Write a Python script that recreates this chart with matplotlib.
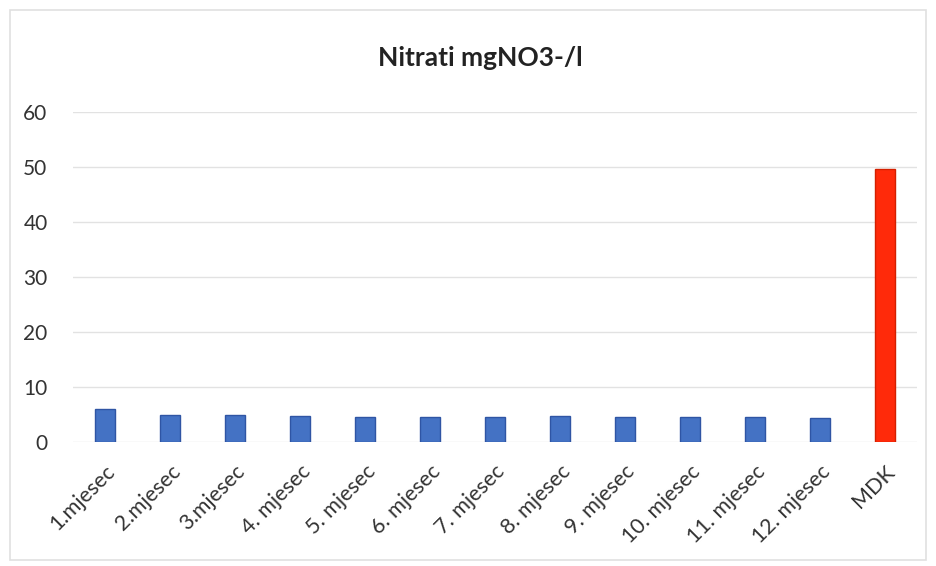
import matplotlib.pyplot as plt
from matplotlib.patches import Rectangle

plt.rcParams['font.family'] = ['Lato', 'DejaVu Sans']

categories = ["1.mjesec", "2.mjesec", "3.mjesec", "4. mjesec", "5. mjesec", "6. mjesec",
              "7. mjesec", "8. mjesec", "9. mjesec", "10. mjesec", "11. mjesec", "12. mjesec", "MDK"]
values = [6.0, 4.9, 4.9, 4.8, 4.5, 4.6, 4.6, 4.7, 4.6, 4.5, 4.5, 4.4, 49.6]
bar_colors = ["#4472C4"] * 12 + ["#FF2A0A"]
edge_colors = ["#2F55A4"] * 12 + ["#D42000"]

fig = plt.figure(figsize=(9.36, 5.66), dpi=100)
fig.patches.append(Rectangle((0.011, 0.01), 0.978, 0.972, transform=fig.transFigure,
                             fill=False, edgecolor="#e0e0e0", linewidth=1.2))

ax = fig.add_axes([0.0775, 0.219, 0.9025, 0.583])
x = range(len(categories))
ax.bar(x, values, width=0.31, color=bar_colors, edgecolor=edge_colors, linewidth=1, zorder=3)

ax.set_xlim(-0.5, len(categories) - 0.5)
ax.set_ylim(0, 60)
ax.set_yticks(range(0, 61, 10))
ax.grid(axis="y", color="#e2e2e2", linewidth=1, zorder=0)
for s in ax.spines.values():
    s.set_visible(False)
ax.tick_params(axis="both", length=0, colors="#333333")
ax.tick_params(axis="y", labelsize=15, pad=18)
ax.set_xticks(list(x))
ax.set_xticklabels(categories, rotation=45, ha="right", rotation_mode="anchor", fontsize=15.5)
ax.tick_params(axis="x", pad=14)

fig.text(0.513, 0.898, "Nitrati mgNO3-/l", ha="center", va="center",
         fontsize=19, fontweight="bold", color="#222222")

fig.savefig("out.png", dpi=100)
